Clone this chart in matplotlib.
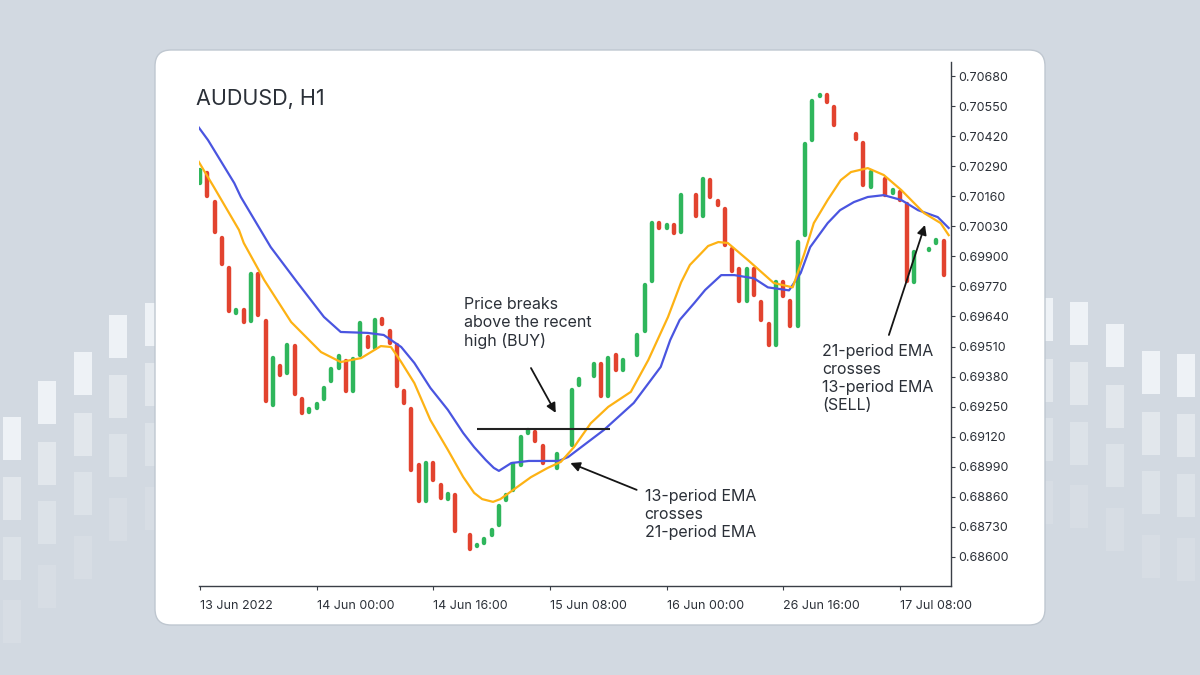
import matplotlib
matplotlib.use('Agg')
import matplotlib.pyplot as plt
from matplotlib.patches import FancyBboxPatch, Rectangle

plt.rcParams['font.family'] = ['Inter', 'DejaVu Sans']

# hourly candles (open / close), left to right
opens = [0.70209, 0.70269, 0.70144, 0.69988, 0.69858, 0.69646, 0.69677, 0.69612, 0.69832, 0.69629,
         0.69249, 0.69434, 0.69387, 0.69521, 0.69292, 0.69218, 0.69236, 0.69274, 0.69352, 0.69409,
         0.69456, 0.69309, 0.69465, 0.69560, 0.69495, 0.69638, 0.69586, 0.69525, 0.69326, 0.69249,
         0.69006, 0.68833, 0.69015, 0.68920, 0.68842, 0.68877, 0.68691, 0.68704, 0.68639, 0.68652,
         0.68686, 0.68730, 0.68838, 0.68881, 0.68989, 0.69127, 0.69149, 0.69088, 0.68998, 0.68976,
         0.69071, 0.69075, 0.69335, 0.69378, 0.69374, 0.69443, 0.69287, 0.69482, 0.69400, 0.69452,
         0.69465, 0.69569, 0.69785, 0.70053, 0.70014, 0.70044, 0.69997, 0.70170, 0.70174, 0.70066,
         0.70239, 0.70148, 0.70113, 0.69940, 0.69854, 0.69698, 0.69854, 0.69711, 0.69616, 0.69508,
         0.69798, 0.69716, 0.69590, 0.69984, 0.70395, 0.70585, 0.70606, 0.70555, 0.70464, 0.70451,
         0.70438, 0.70399, 0.70191, 0.70265, 0.70243, 0.70165, 0.70187, 0.70135, 0.69780, 0.69919,
         0.69919, 0.69949, 0.69975, 0.69793]
closes = [0.70282, 0.70152, 0.69997, 0.69858, 0.69655, 0.69677, 0.69607, 0.69832, 0.69638, 0.69266,
          0.69469, 0.69378, 0.69525, 0.69296, 0.69214, 0.69249, 0.69270, 0.69339, 0.69422, 0.69478,
          0.69309, 0.69465, 0.69620, 0.69499, 0.69633, 0.69599, 0.69517, 0.69331, 0.69257, 0.68967,
          0.68833, 0.69015, 0.68924, 0.68846, 0.68881, 0.68704, 0.68704, 0.68626, 0.68660, 0.68686,
          0.68725, 0.68829, 0.68877, 0.69011, 0.69127, 0.69158, 0.69093, 0.68998, 0.68985, 0.69054,
          0.69075, 0.69331, 0.69378, 0.69370, 0.69443, 0.69287, 0.69469, 0.69400, 0.69460, 0.69460,
          0.69569, 0.69785, 0.70053, 0.70014, 0.70044, 0.69992, 0.70174, 0.70174, 0.70066, 0.70243,
          0.70148, 0.70113, 0.69940, 0.69828, 0.69698, 0.69854, 0.69724, 0.69616, 0.69508, 0.69798,
          0.69720, 0.69590, 0.69971, 0.70395, 0.70581, 0.70606, 0.70559, 0.70459, 0.70455, 0.70442,
          0.70399, 0.70200, 0.70273, 0.70256, 0.70157, 0.70196, 0.70135, 0.69785, 0.69928, 0.69928,
          0.69940, 0.69979, 0.69811, 0.69785]

# EMA lines (candle index, price)
ema21_x = [-0.2, 1.1, 4.7, 5.6, 9.7, 13.4, 17.0, 19.3, 23.0, 25.2, 27.6, 29.4, 31.6, 34.0, 36.1,
           37.6, 39.2, 40.3, 41.0, 42.7, 45.1, 49.2, 50.5, 55.4, 59.5, 63.2, 64.5, 65.8, 67.8,
           69.3, 71.5, 73.3, 76.0, 77.9, 80.8, 82.4, 83.7, 86.1, 87.8, 89.7, 91.6, 93.8, 96.2,
           98.5, 101.2, 102.7]
ema21_y = [0.70459, 0.70403, 0.70217, 0.70157, 0.69940, 0.69785, 0.69638, 0.69573, 0.69569,
           0.69560, 0.69508, 0.69439, 0.69331, 0.69236, 0.69136, 0.69075, 0.69019, 0.68985,
           0.68972, 0.69006, 0.69015, 0.69015, 0.69032, 0.69149, 0.69266, 0.69422, 0.69538,
           0.69625, 0.69698, 0.69755, 0.69819, 0.69819, 0.69805, 0.69766, 0.69753, 0.69828,
           0.69940, 0.70044, 0.70100, 0.70135, 0.70157, 0.70165, 0.70144, 0.70100, 0.70070, 0.70023]
ema13_x = [-0.4, 1.9, 5.35, 6.0, 8.8, 12.5, 16.6, 19.3, 22.1, 24.8, 26.2, 27.6, 29.4, 31.6,
           34.0, 36.1, 37.6, 38.7, 40.2, 41.2, 42.4, 45.4, 47.7, 49.5, 51.3, 53.6, 56.0, 59.1,
           61.5, 64.2, 66.0, 67.2, 68.7, 69.7, 71.1, 72.4, 75.2, 78.7, 81.3, 82.9, 84.2, 86.1,
           87.9, 89.3, 91.6, 93.8, 96.2, 99.3, 101.6, 102.7]
ema13_y = [0.70321, 0.70200, 0.70014, 0.69958, 0.69798, 0.69616, 0.69486, 0.69443, 0.69460,
           0.69512, 0.69508, 0.69443, 0.69352, 0.69192, 0.69063, 0.68946, 0.68877, 0.68850,
           0.68838, 0.68850, 0.68877, 0.68945, 0.68985, 0.69011, 0.69075, 0.69178, 0.69249,
           0.69314, 0.69452, 0.69638, 0.69788, 0.69863, 0.69912, 0.69945, 0.69962, 0.69958,
           0.69883, 0.69785, 0.69766, 0.69912, 0.70044, 0.70144, 0.70230, 0.70265, 0.70282,
           0.70252, 0.70187, 0.70088, 0.70044, 0.69992]

recent_high = 0.69155
high_span = (38.0, 56.2)

x_ticks = [0, 16, 32, 48, 64, 80, 96]
x_labels = ['13 Jun 2022', '14 Jun 00:00', '14 Jun 16:00', '15 Jun 08:00',
            '16 Jun 00:00', '26 Jun 16:00', '17 Jul 08:00']
y_ticks = [0.68600, 0.68730, 0.68860, 0.68990, 0.69120, 0.69250, 0.69380, 0.69510, 0.69640,
           0.69770, 0.69900, 0.70030, 0.70160, 0.70290, 0.70420, 0.70550, 0.70680]

GREEN = '#2fb65c'
RED = '#e2432f'
BLUE = '#4a55e0'
ORANGE = '#fdb214'
TXT = '#2b3038'

fig = plt.figure(figsize=(12, 6.75), dpi=100)
fig.patch.set_facecolor('#d2d9e1')

# background: decorative bars + white card (pixel coordinates)
bg = fig.add_axes([0, 0, 1, 1], zorder=0)
bg.set_xlim(0, 1200)
bg.set_ylim(675, 0)
bg.axis('off')
shades = ['#eef2f6', '#e2e7ec', '#dce2e8', '#d7dde4']
deco = [(3, [417, 477, 537, 600]), (38, [381, 442, 501, 565]), (74, [352, 413, 472, 536]),
        (109, [315, 375, 434, 498]), (145, [303, 363, 423, 487]),
        (1035, [298, 359, 418, 481]), (1070, [302, 362, 422, 485]), (1106, [324, 385, 444, 508]),
        (1142, [351, 412, 471, 535]), (1177, [354, 414, 474, 538])]
for x0, tops in deco:
    for t, c in zip(tops, shades):
        bg.add_patch(Rectangle((x0, t), 18, 43, color=c, lw=0))
bg.add_patch(FancyBboxPatch((155, 50), 890, 575, boxstyle='round,pad=0,rounding_size=16',
                            fc='white', ec='#bfc7d0', lw=1))
bg.text(196, 99, 'AUDUSD, H1', fontsize=15.5, color=TXT, va='center', ha='left')

ax = fig.add_axes([199 / 1200, 1 - 586 / 675, (951 - 199) / 1200, (586 - 62) / 675], zorder=1)
ax.set_facecolor('none')
ax.set_xlim(-0.14, 103.02)
ax.set_ylim(0.68474, 0.70741)

# candle bodies as round-capped bars; trim the cap overhang
cap = (0.70741 - 0.68474) / 524 * 2.2
xs, lo, hi, cols = [], [], [], []
for i, (o, c) in enumerate(zip(opens, closes)):
    a, b = min(o, c) + cap, max(o, c) - cap
    if a > b:
        a = b = (o + c) / 2
    xs.append(i)
    lo.append(a)
    hi.append(b)
    cols.append(GREEN if c >= o else RED)
ax.vlines(xs, lo, hi, colors=cols, linewidth=3.2, capstyle='round', zorder=2)

ax.plot(ema21_x, ema21_y, color=BLUE, lw=1.6, zorder=3, solid_joinstyle='round')
ax.plot(ema13_x, ema13_y, color=ORANGE, lw=1.6, zorder=3, solid_joinstyle='round')
ax.hlines(recent_high, high_span[0], high_span[1], color='#222222', lw=1.5, zorder=4)

arrow = dict(arrowstyle='-|>', color='#151515', lw=1.3, mutation_scale=14, shrinkA=0, shrinkB=0)
tkw = dict(fontsize=11.5, color=TXT, va='top', ha='left', linespacing=1.25)
ax.text(36.2, 0.69724, 'Price breaks\nabove the recent\nhigh (BUY)', **tkw)
ax.annotate('', xy=(48.8, 0.69223), xytext=(45.4, 0.69417), arrowprops=arrow)
ax.text(61.0, 0.68893, '13-period EMA\ncrosses\n21-period EMA', **tkw)
ax.annotate('', xy=(50.8, 0.69006), xytext=(59.9, 0.68890), arrowprops=arrow)
ax.text(85.3, 0.69520, '21-period EMA\ncrosses\n13-period EMA\n(SELL)', **tkw)
ax.annotate('', xy=(99.45, 0.70036), xytext=(94.5, 0.69560), arrowprops=arrow)

for s in ['top', 'left']:
    ax.spines[s].set_visible(False)
for s in ['right', 'bottom']:
    ax.spines[s].set_color('#3a3f47')
    ax.spines[s].set_linewidth(1)
ax.yaxis.tick_right()
ax.set_yticks(y_ticks)
ax.set_yticklabels(['%.5f' % v for v in y_ticks])
ax.set_xticks(x_ticks)
ax.set_xticklabels(x_labels, ha='left')
ax.tick_params(axis='y', length=3, pad=2.5, labelsize=9, colors='#3a3f47', labelcolor=TXT)
ax.tick_params(axis='x', length=3, pad=7, labelsize=9, colors='#3a3f47', labelcolor=TXT)

fig.savefig('out.png', dpi=100, facecolor=fig.get_facecolor())
